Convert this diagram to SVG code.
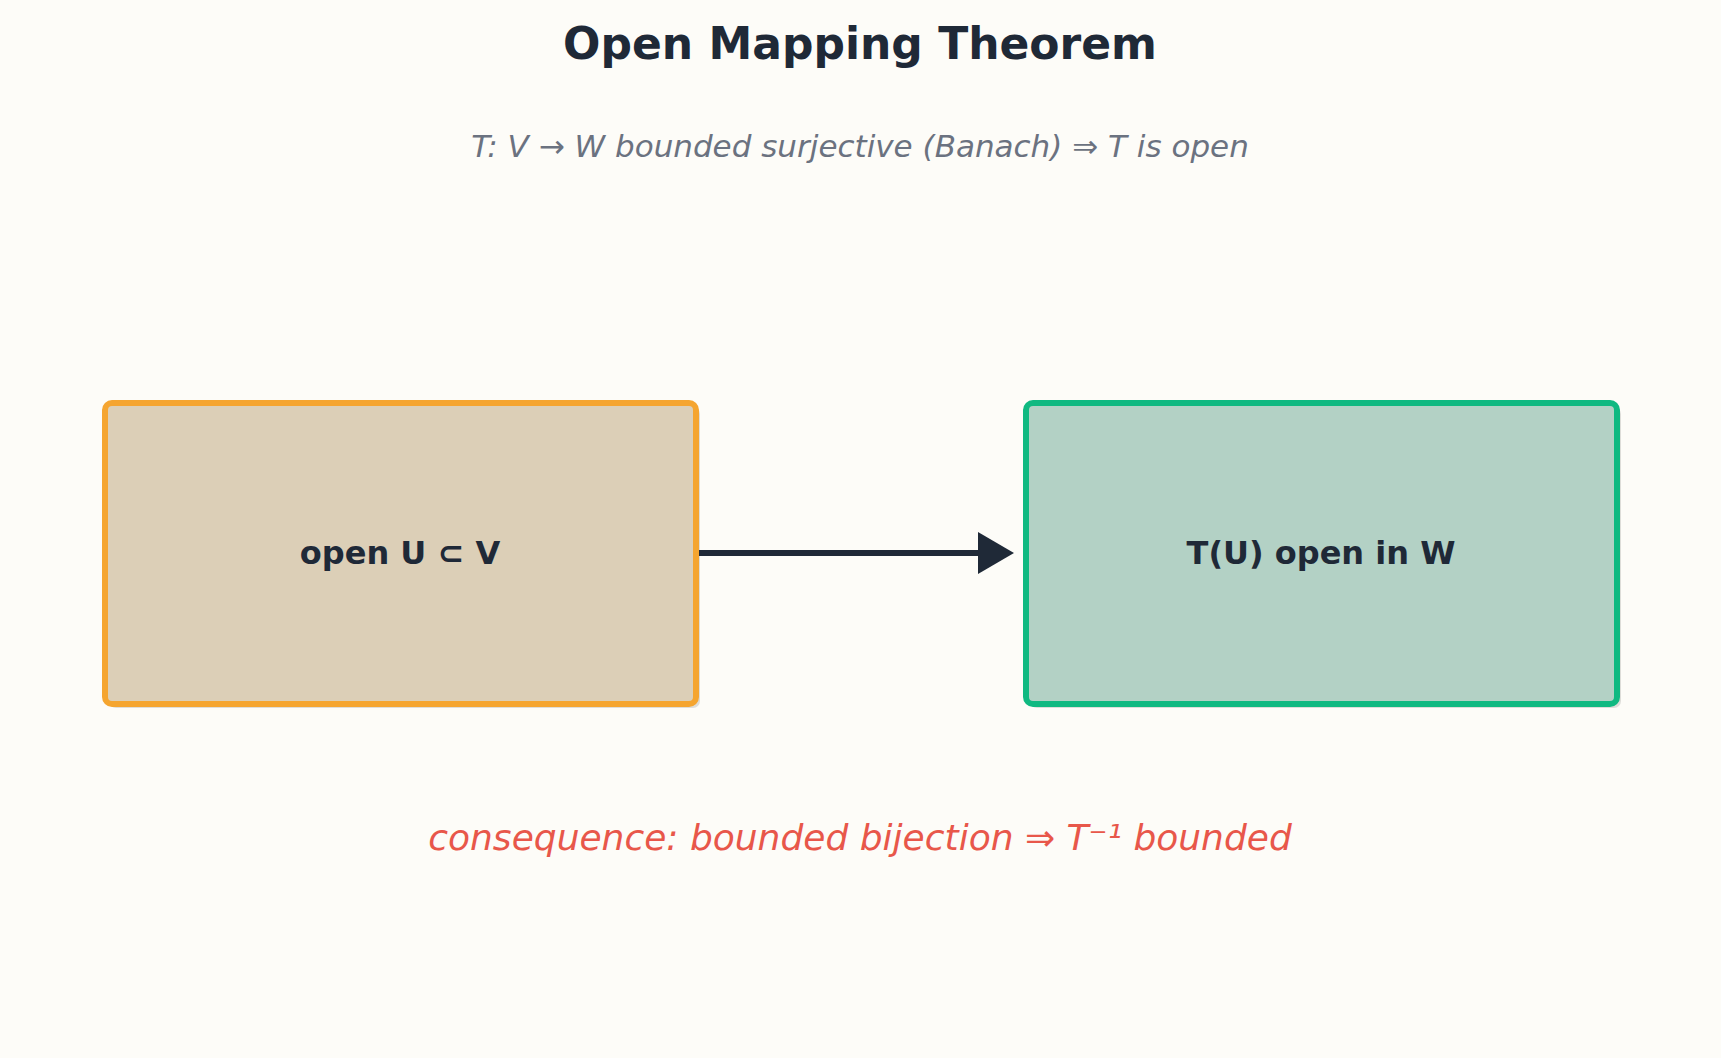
<svg xmlns="http://www.w3.org/2000/svg" width="1721" height="1058" viewBox="0 0 1721 1058">
<style>
.t{font-family:"DejaVu Sans",sans-serif;text-anchor:middle}
.lbl{font-size:32px;font-weight:bold;fill:#1f2937}
</style>
<defs>
<marker id="ah" markerWidth="8" markerHeight="8" refX="5" refY="4" orient="auto" markerUnits="strokeWidth"><path d="M0,0.5 L6,4 L0,7.5 Z" fill="#1f2937"/></marker>
</defs>
<rect width="1721" height="1058" fill="#fdfcf8"/>
<text class="t" x="860" y="59" font-size="44" font-weight="bold" fill="#1f2937">Open Mapping Theorem</text>
<text class="t" x="860" y="157" font-size="31" font-style="italic" fill="#6b7280">T: V → W bounded surjective (Banach) ⇒ T is open</text>
<g id="left">
<rect x="109" y="407" width="591" height="301" rx="7" fill="#000" opacity="0.12"/>
<rect x="105" y="403" width="591" height="301" rx="7" fill="#dccfb7" stroke="#f5a530" stroke-width="6"/>
<text class="t lbl" x="400" y="564">open U ⊂ V</text>
</g>
<g id="right">
<rect x="1030" y="407" width="591" height="301" rx="7" fill="#000" opacity="0.12"/>
<rect x="1026" y="403" width="591" height="301" rx="7" fill="#b3d1c5" stroke="#10b981" stroke-width="6"/>
<text class="t lbl" x="1321" y="564">T(U) open in W</text>
</g>
<g id="connectors">
<line x1="699" y1="553" x2="1008" y2="553" stroke="#1f2937" stroke-width="6" marker-end="url(#ah)"/>
</g>
<text class="t" x="860" y="850" font-size="36" font-style="italic" fill="#e8574a">consequence: bounded bijection ⇒ T⁻¹ bounded</text>
</svg>
